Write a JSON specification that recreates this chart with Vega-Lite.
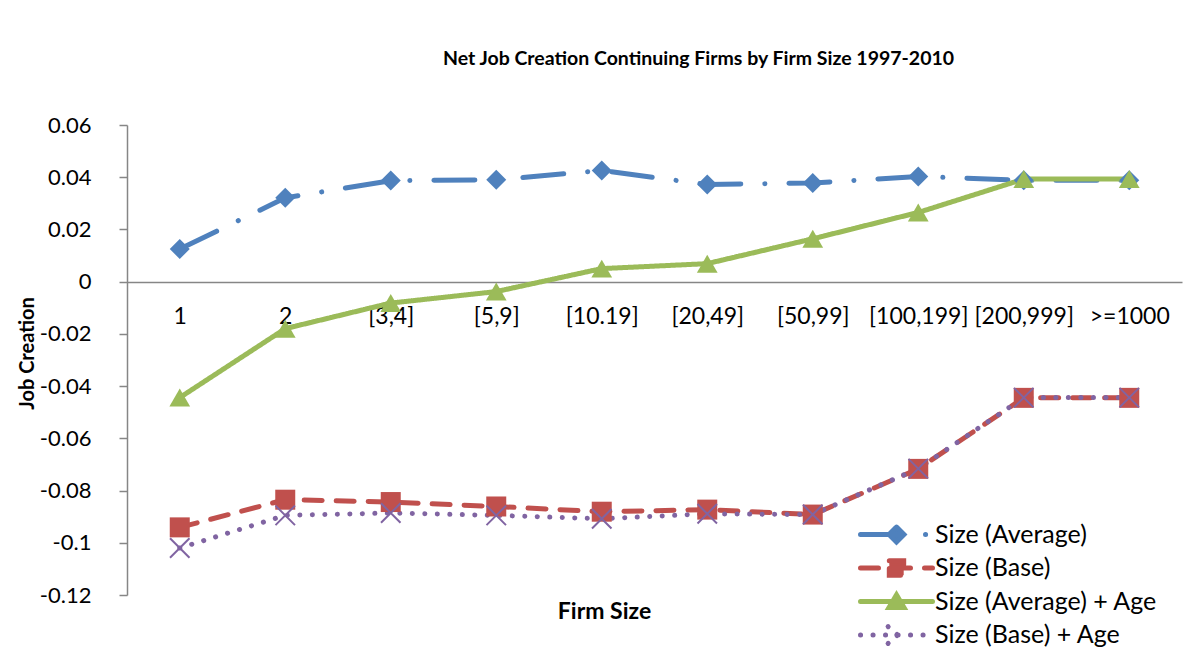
{
  "$schema": "https://vega.github.io/schema/vega-lite/v6.json",
  "width": 1055,
  "height": 470,
  "autosize": {"type": "none"},
  "padding": {"left": 127, "top": 125, "right": 15, "bottom": 52},
  "background": "white",
  "title": {
    "text": "Net Job Creation Continuing Firms by Firm Size 1997-2010",
    "font": "Lato",
    "fontSize": 19.5,
    "fontWeight": "bold",
    "color": "black",
    "anchor": "middle",
    "dx": 44,
    "offset": 45
  },
  "datasets": {
    "jobs": [
      {"size": "1", "series": "Size (Average)", "value": 0.0125},
      {"size": "2", "series": "Size (Average)", "value": 0.0321},
      {"size": "[3,4]", "series": "Size (Average)", "value": 0.0387},
      {"size": "[5,9]", "series": "Size (Average)", "value": 0.039},
      {"size": "[10.19]", "series": "Size (Average)", "value": 0.0426},
      {"size": "[20,49]", "series": "Size (Average)", "value": 0.0372},
      {"size": "[50,99]", "series": "Size (Average)", "value": 0.0378},
      {"size": "[100,199]", "series": "Size (Average)", "value": 0.0403},
      {"size": "[200,999]", "series": "Size (Average)", "value": 0.0388},
      {"size": ">=1000", "series": "Size (Average)", "value": 0.0388},
      {"size": "1", "series": "Size (Base)", "value": -0.0941},
      {"size": "2", "series": "Size (Base)", "value": -0.0835},
      {"size": "[3,4]", "series": "Size (Base)", "value": -0.0844},
      {"size": "[5,9]", "series": "Size (Base)", "value": -0.0861},
      {"size": "[10.19]", "series": "Size (Base)", "value": -0.0881},
      {"size": "[20,49]", "series": "Size (Base)", "value": -0.0873},
      {"size": "[50,99]", "series": "Size (Base)", "value": -0.0892},
      {"size": "[100,199]", "series": "Size (Base)", "value": -0.0717},
      {"size": "[200,999]", "series": "Size (Base)", "value": -0.0445},
      {"size": ">=1000", "series": "Size (Base)", "value": -0.0445},
      {"size": "1", "series": "Size (Average) + Age", "value": -0.0444},
      {"size": "2", "series": "Size (Average) + Age", "value": -0.018},
      {"size": "[3,4]", "series": "Size (Average) + Age", "value": -0.0082},
      {"size": "[5,9]", "series": "Size (Average) + Age", "value": -0.0038},
      {"size": "[10.19]", "series": "Size (Average) + Age", "value": 0.005},
      {"size": "[20,49]", "series": "Size (Average) + Age", "value": 0.0069},
      {"size": "[50,99]", "series": "Size (Average) + Age", "value": 0.0164},
      {"size": "[100,199]", "series": "Size (Average) + Age", "value": 0.0265},
      {"size": "[200,999]", "series": "Size (Average) + Age", "value": 0.0393},
      {"size": ">=1000", "series": "Size (Average) + Age", "value": 0.0393},
      {"size": "1", "series": "Size (Base) + Age", "value": -0.102},
      {"size": "2", "series": "Size (Base) + Age", "value": -0.0895},
      {"size": "[3,4]", "series": "Size (Base) + Age", "value": -0.0886},
      {"size": "[5,9]", "series": "Size (Base) + Age", "value": -0.0895},
      {"size": "[10.19]", "series": "Size (Base) + Age", "value": -0.0908},
      {"size": "[20,49]", "series": "Size (Base) + Age", "value": -0.0889},
      {"size": "[50,99]", "series": "Size (Base) + Age", "value": -0.0892},
      {"size": "[100,199]", "series": "Size (Base) + Age", "value": -0.0716},
      {"size": "[200,999]", "series": "Size (Base) + Age", "value": -0.0444},
      {"size": ">=1000", "series": "Size (Base) + Age", "value": -0.0444}
    ]
  },
  "data": {"name": "jobs"},
  "encoding": {
    "x": {
      "field": "size",
      "type": "ordinal",
      "sort": ["1", "2", "[3,4]", "[5,9]", "[10.19]", "[20,49]", "[50,99]", "[100,199]", "[200,999]", ">=1000"],
      "scale": {"type": "point", "padding": 0.5},
      "axis": {
        "title": "Firm Size",
        "offset": -313,
        "ticks": false,
        "tickSize": 0,
        "domainColor": "#868686",
        "domainWidth": 1.5,
        "labelAngle": 0,
        "labelFont": "Lato",
        "labelFontSize": 23,
        "labelColor": "black",
        "labelPadding": 23,
        "labelOverlap": false,
        "grid": false,
        "titleFont": "Lato",
        "titleFontSize": 23,
        "titleFontWeight": "bold",
        "titleColor": "black",
        "titleX": 477,
        "titleY": 329,
        "titleBaseline": "middle",
        "titleAlign": "center"
      }
    },
    "y": {
      "field": "value",
      "type": "quantitative",
      "scale": {"domain": [-0.12, 0.06], "nice": false, "zero": false},
      "axis": {
        "title": "Job Creation",
        "values": [-0.12, -0.1, -0.08, -0.06, -0.04, -0.02, 0, 0.02, 0.04, 0.06],
        "labelExpr": "replace(format(datum.value, '.2~f'), '\u2212', '-')",
        "grid": false,
        "domainColor": "#868686",
        "domainWidth": 1.5,
        "tickColor": "#868686",
        "tickWidth": 1.5,
        "tickSize": 8,
        "labelFont": "Lato",
        "labelFontSize": 22,
        "labelColor": "black",
        "labelPadding": 28,
        "titleFont": "Lato",
        "titleFontSize": 20,
        "titleFontWeight": "bold",
        "titleColor": "black",
        "titleAngle": -90,
        "titleX": -100,
        "titleY": 228,
        "titleAlign": "center",
        "titleBaseline": "middle"
      }
    }
  },
  "layer": [
    {
      "mark": {"type": "line", "strokeWidth": 5, "strokeCap": "round", "strokeJoin": "round"},
      "encoding": {
        "stroke": {
          "field": "series",
          "type": "nominal",
          "scale": {
            "domain": ["Size (Average)", "Size (Base)", "Size (Average) + Age", "Size (Base) + Age"],
            "range": ["#4F81BD", "#C0504D", "#9BBB59", "#8064A2"]
          }
        },
        "strokeDash": {
          "field": "series",
          "type": "nominal",
          "scale": {
            "domain": ["Size (Average)", "Size (Base)", "Size (Average) + Age", "Size (Base) + Age"],
            "range": [[41, 24, 0.1, 24], [18, 14], [1, 0], [0.1, 12.4]]
          }
        }
      }
    },
    {
      "transform": [{"filter": "datum.series === 'Size (Average)'"}],
      "mark": {"type": "point", "shape": "diamond", "filled": true, "size": 400, "color": "#4F81BD", "opacity": 1, "strokeWidth": 0}
    },
    {
      "transform": [{"filter": "datum.series === 'Size (Base)'"}],
      "mark": {"type": "point", "shape": "square", "filled": true, "size": 400, "color": "#C0504D", "opacity": 1, "strokeWidth": 0}
    },
    {
      "transform": [{"filter": "datum.series === 'Size (Average) + Age'"}],
      "mark": {"type": "point", "shape": "triangle-up", "filled": true, "size": 430, "color": "#9BBB59", "opacity": 1, "strokeWidth": 0}
    },
    {
      "transform": [{"filter": "datum.series === 'Size (Base) + Age'"}],
      "mark": {"type": "point", "shape": "M-1,-1L1,1M-1,1L1,-1", "filled": false, "size": 380, "stroke": "#8064A2", "strokeWidth": 2, "opacity": 1}
    },
    {
      "transform": [{"filter": "datum.value > 1"}],
      "mark": {"type": "point", "filled": true, "size": 576, "opacity": 1, "strokeWidth": 5},
      "encoding": {
        "fill": {
          "field": "series",
          "type": "nominal",
          "scale": {
            "domain": ["Size (Average)", "Size (Base)", "Size (Average) + Age", "Size (Base) + Age"],
            "range": ["#4F81BD", "#C0504D", "#9BBB59", "#8064A2"]
          }
        },
        "stroke": {
          "field": "series",
          "type": "nominal",
          "scale": {
            "domain": ["Size (Average)", "Size (Base)", "Size (Average) + Age", "Size (Base) + Age"],
            "range": ["#4F81BD", "#C0504D", "#9BBB59", "#8064A2"]
          }
        },
        "strokeDash": {
          "field": "series",
          "type": "nominal",
          "scale": {
            "domain": ["Size (Average)", "Size (Base)", "Size (Average) + Age", "Size (Base) + Age"],
            "range": [[41, 24, 0.1, 24], [18, 14], [1, 0], [0.1, 12.4]]
          }
        },
        "shape": {
          "field": "series",
          "type": "nominal",
          "scale": {
            "domain": ["Size (Average)", "Size (Base)", "Size (Average) + Age", "Size (Base) + Age"],
            "range": [
              "M-3,0L3,0M0,-0.62L0.62,0L0,0.62L-0.62,0Z",
              "M-3,0L3,0M-0.6,-0.6L0.6,-0.6L0.6,0.6L-0.6,0.6Z",
              "M-3,0L3,0M0,-0.55L0.62,0.5L-0.62,0.5Z",
              "M-3,0L3,0M-0.7,-0.7L0.7,0.7M-0.7,0.7L0.7,-0.7"
            ]
          },
          "legend": {
            "title": null,
            "orient": "none",
            "legendX": 755,
            "legendY": 395,
            "encoding": {"symbols": {"strokeCap": {"value": "round"}}}
          }
        }
      }
    }
  ],
  "config": {
    "view": {"stroke": null},
    "legend": {
      "orient": "none",
      "legendX": 755,
      "legendY": 395,
      "padding": 0,
      "labelFont": "Lato",
      "labelFontSize": 25,
      "labelColor": "black",
      "labelOffset": 24,
      "labelLimit": 400,
      "symbolSize": 576,
      "symbolStrokeWidth": 5,
      "rowPadding": -1.5,
      "symbolLimit": 0
    }
  }
}
